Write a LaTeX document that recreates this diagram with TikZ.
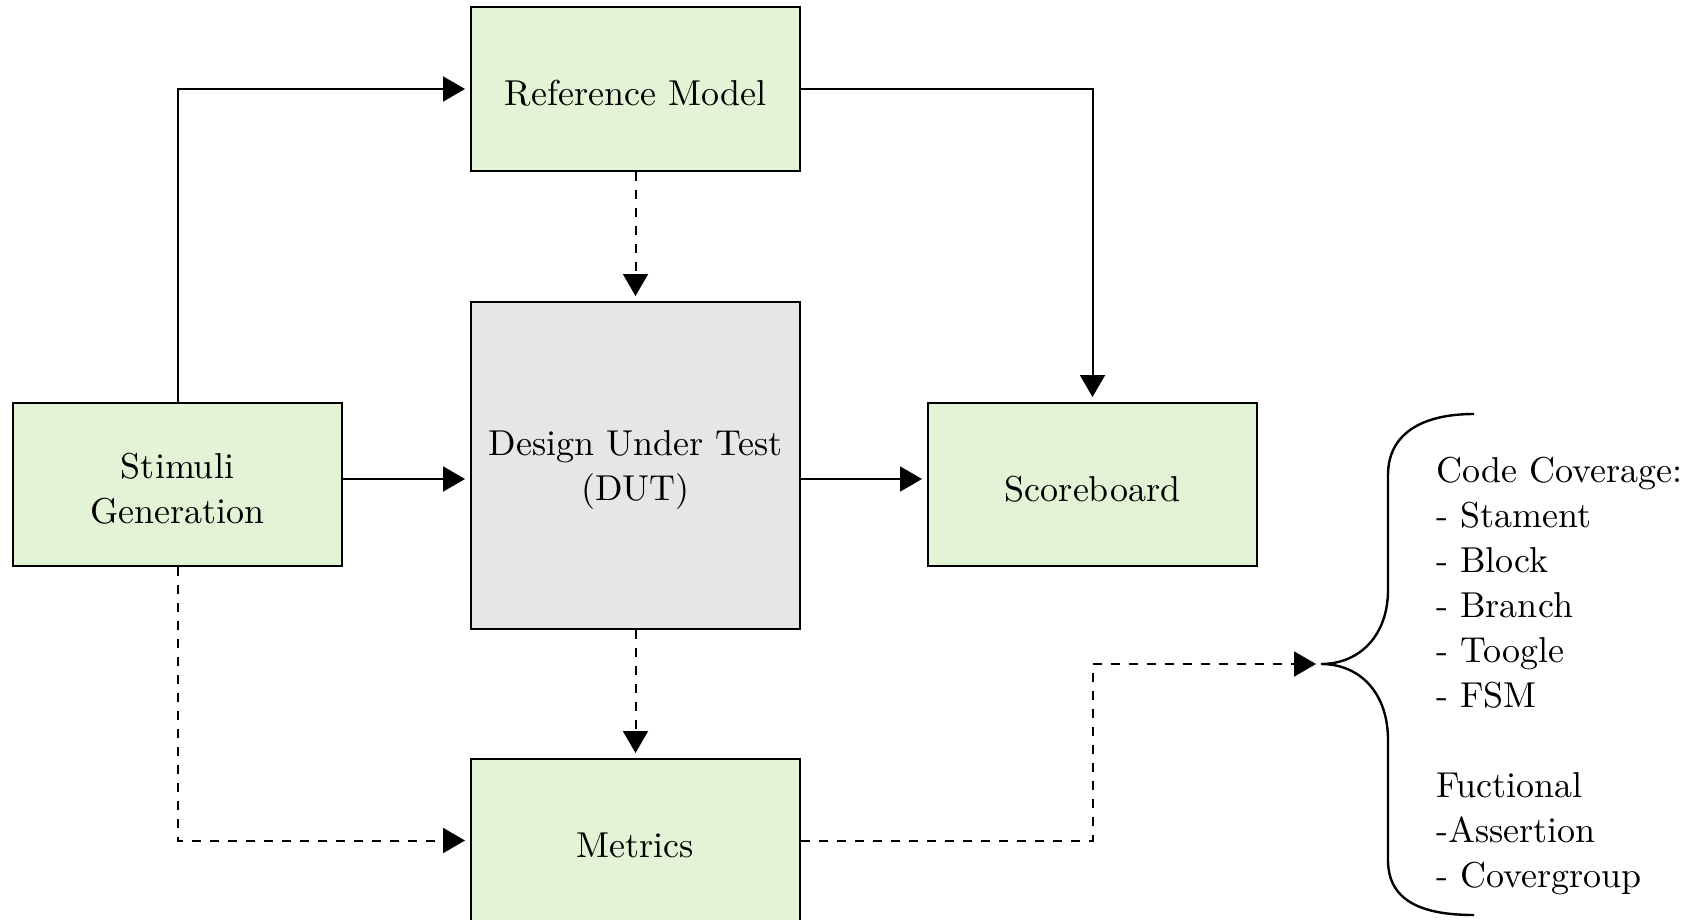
\documentclass[tikz,border=0pt]{standalone}
\usepackage{fontspec}
\usetikzlibrary{arrows.meta,calc}
\definecolor{boxgreen}{RGB}{226,243,214}
\definecolor{boxgray}{RGB}{230,230,230}
\newfontfamily\diagff{lmroman10-regular.otf}
\newcommand{\diagfont}{\diagff\fontsize{18}{22.5}\selectfont}
\tikzset{
  blk/.style={draw=black, line width=1pt, minimum width=164.5pt, minimum height=81.5pt,
    inner sep=0pt, align=center, font=\diagfont},
  oneline/.style={text height=17pt},
  twoline/.style={text height=39.5pt},
  greenblk/.style={blk, fill=boxgreen},
  arr/.style={line width=1pt, -{Triangle[length=11pt,width=12.5pt]}, shorten >=2.5pt},
  dasharr/.style={arr, dash pattern=on 4.5pt off 4.5pt},
}
\begin{document}
\begin{tikzpicture}[x=0.5pt,y=-0.5pt]
\useasboundingbox (0,0) rectangle (1697,920);
\clip (0,0) rectangle (1697,920);
\node[greenblk, oneline] (rm) at (635.5,89) {Reference Model};
\node[blk, twoline, fill=boxgray, minimum height=163.5pt] (dut) at (635.5,465.5) {Design Under Test\\(DUT)};
\node[greenblk, twoline] (stim) at (177.5,484.5) {Stimuli\\Generation};
\node[greenblk, oneline] (score) at (1092.5,484.5) {Scoreboard};
\node[greenblk, oneline] (met) at (635.5,840.5) {Metrics};
\coordinate (tip) at (1321,664);

\draw[arr] (stim.north) |- (rm.west);
\draw[arr] (rm.east) -| (score.north);
\draw[arr] ([yshift=2.75pt]stim.east) -- ([yshift=2.75pt]stim.east -| dut.west);
\draw[arr] ([yshift=2.75pt]score.west -| dut.east) -- ([yshift=2.75pt]score.west);
\draw[dasharr] (rm.south) -- (dut.north);
\draw[dasharr] (dut.south) -- (met.north);
\draw[dasharr] (stim.south) |- (met.west);
\draw[dasharr] (met.east) -- (met.east -| score.south) |- (tip);

\draw[line width=1.2pt] (1474,414) .. controls (1420,414) and (1388,435) .. (1388,475)
  -- (1388,590) .. controls (1388,635) and (1360,664) .. (tip)
  .. controls (1360,664) and (1388,693) .. (1388,740)
  -- (1388,860) .. controls (1388,900) and (1420,915) .. (1474,915);

\node[anchor=west, align=left, inner sep=0pt, font=\diagfont] (list) at (1436,676)
  {Code Coverage:\\- Stament\\- Block\\- Branch\\- Toogle\\- FSM\\ \mbox{}\\Fuctional\\-Assertion\\- Covergroup};
\end{tikzpicture}
\end{document}
